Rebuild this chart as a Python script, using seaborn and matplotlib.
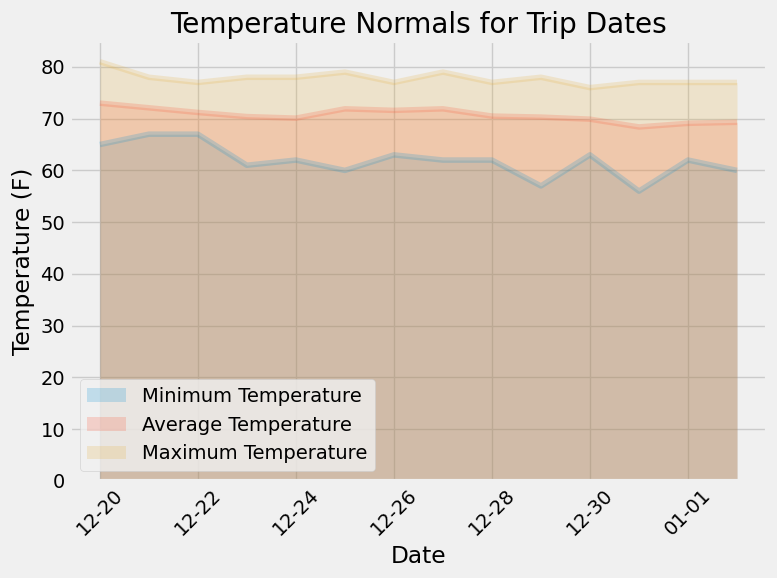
import matplotlib
matplotlib.use("Agg")
import matplotlib.pyplot as plt
import seaborn as sns
import pandas as pd
import numpy as np
from matplotlib.patches import Patch

dates = ["12-20", "12-21", "12-22", "12-23", "12-24", "12-25", "12-26",
         "12-27", "12-28", "12-29", "12-30", "12-31", "01-01", "01-02"]
tmin = [65, 67, 67, 61, 62, 60, 63, 62, 62, 57, 63, 56, 62, 60]
tavg = [73.0, 72.1, 71.2, 70.4, 70.1, 71.9, 71.6, 71.9, 70.5, 70.3, 69.9, 68.4, 69.1, 69.3]
tmax = [81, 78, 77, 78, 78, 79, 77, 79, 77, 78, 76, 77, 77, 77]

labels = ["Minimum Temperature", "Average Temperature", "Maximum Temperature"]
colors = ["#008fd5", "#fc4f30", "#e5ae38"]

plt.style.use("fivethirtyeight")
fig = plt.figure(figsize=(7.77, 5.78), dpi=100)
fig.patch.set_facecolor("#f0f0f0")
ax = fig.add_axes([0.090, 0.168, 0.897, 0.761])

df = pd.DataFrame({"x": np.arange(len(dates)), labels[0]: tmin, labels[1]: tavg, labels[2]: tmax})
x = df["x"].values
handles = []
for lab, c in zip(labels, colors):
    sns.lineplot(x=x, y=df[lab].values, ax=ax, color=c, alpha=0.2, linewidth=4)
    ax.fill_between(x, 0, df[lab].values, color=c, alpha=0.2, linewidth=0)
    handles.append(Patch(facecolor=c, alpha=0.2, label=lab))

ax.set_xlim(-0.61, 13.61)
ax.set_ylim(0, 85)
ax.set_xticks(x[::2])
ax.set_xticklabels(dates[::2], rotation=45)
ax.set_title("Temperature Normals for Trip Dates")
ax.set_xlabel("Date")
ax.set_ylabel("Temperature (F)")
ax.legend(handles=handles, loc="lower left")
fig.savefig("out.png", dpi=100)
